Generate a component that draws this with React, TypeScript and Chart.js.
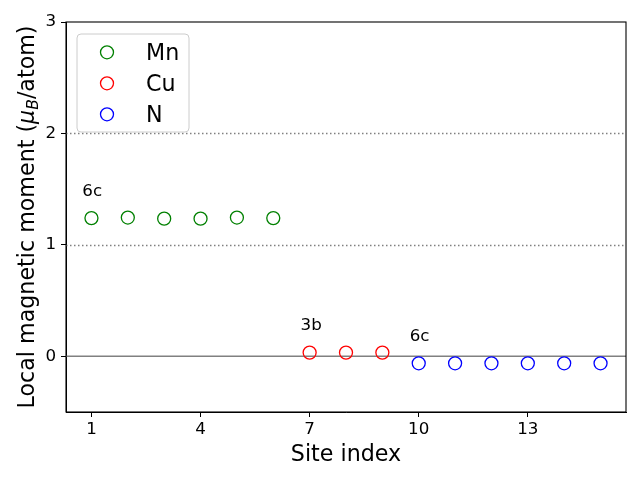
import React, { useEffect, useRef } from "react";
import { Chart, registerables } from "chart.js";

Chart.register(...registerables);

const mnSites = [1, 2, 3, 4, 5, 6];
const mnMoments = [1.24, 1.245, 1.235, 1.235, 1.245, 1.24];
const cuSites = [7, 8, 9];
const cuMoments = [0.033, 0.033, 0.033];
const nSites = [10, 11, 12, 13, 14, 15];
const nMoments = [-0.063, -0.063, -0.063, -0.063, -0.063, -0.063];

const seriesLabels = ["Mn", "Cu", "N"];
const seriesColors = ["#008000", "#ff0000", "#0000ff"];

const annotLabels = ["6c", "3b", "6c"];
const annotSites = [1, 7, 10];
const annotMoments = [1.24, 0.033, -0.063];

const xTicks = [1, 4, 7, 10, 13];
const yTicks = [0, 1, 2, 3];
const refLinesDotted = [1, 2];
const refLineSolid = 0;

const FONT = "'DejaVu Sans', sans-serif";
const BIG = 22.2;
const SMALL = 16.7;

const toPts = (xs: number[], ys: number[]) => xs.map((x, i) => ({ x, y: ys[i] }));

const overlayPlugin = {
  id: "overlay",
  beforeDatasetsDraw(chart: any) {
    const { ctx, chartArea: a, scales } = chart;
    const y = scales.y;
    ctx.save();
    ctx.strokeStyle = "#808080";
    ctx.lineWidth = 1.5;
    ctx.setLineDash([1.5, 2.5]);
    refLinesDotted.forEach((v) => {
      const py = Math.round(y.getPixelForValue(v)) + 0.5;
      ctx.beginPath();
      ctx.moveTo(a.left, py);
      ctx.lineTo(a.right, py);
      ctx.stroke();
    });
    ctx.setLineDash([]);
    const p0 = y.getPixelForValue(refLineSolid);
    ctx.beginPath();
    ctx.moveTo(a.left, p0);
    ctx.lineTo(a.right, p0);
    ctx.stroke();
    ctx.restore();
  },
  afterDraw(chart: any) {
    const { ctx, chartArea: a, scales } = chart;
    const xs = scales.x;
    const ys = scales.y;
    ctx.save();
    ctx.strokeStyle = "#000";
    ctx.lineWidth = 1.1;
    ctx.strokeRect(a.left, a.top, a.right - a.left, a.bottom - a.top);

    ctx.fillStyle = "#000";
    ctx.font = `${SMALL}px ${FONT}`;
    ctx.textAlign = "left";
    ctx.textBaseline = "alphabetic";
    annotLabels.forEach((t, i) => {
      ctx.fillText(t, xs.getPixelForValue(annotSites[i] - 0.25), ys.getPixelForValue(annotMoments[i] + 0.2));
    });

    const lx = 77, ly = 34, lw = 112, lh = 98, r = 4;
    ctx.beginPath();
    ctx.moveTo(lx + r, ly);
    ctx.lineTo(lx + lw - r, ly);
    ctx.quadraticCurveTo(lx + lw, ly, lx + lw, ly + r);
    ctx.lineTo(lx + lw, ly + lh - r);
    ctx.quadraticCurveTo(lx + lw, ly + lh, lx + lw - r, ly + lh);
    ctx.lineTo(lx + r, ly + lh);
    ctx.quadraticCurveTo(lx, ly + lh, lx, ly + lh - r);
    ctx.lineTo(lx, ly + r);
    ctx.quadraticCurveTo(lx, ly, lx + r, ly);
    ctx.closePath();
    ctx.fillStyle = "rgba(255,255,255,0.8)";
    ctx.fill();
    ctx.strokeStyle = "#cccccc";
    ctx.lineWidth = 1;
    ctx.stroke();
    ctx.font = `${BIG}px ${FONT}`;
    ctx.textBaseline = "alphabetic";
    seriesLabels.forEach((lab, i) => {
      const cy = 52.3 + i * 31;
      ctx.beginPath();
      ctx.arc(107, cy, 6.5, 0, Math.PI * 2);
      ctx.strokeStyle = seriesColors[i];
      ctx.lineWidth = 1.3;
      ctx.stroke();
      ctx.fillStyle = "#000";
      ctx.fillText(lab, 146, cy + 8);
    });

    ctx.font = `${BIG}px ${FONT}`;
    ctx.textAlign = "center";
    ctx.textBaseline = "alphabetic";
    ctx.fillText("Site index", (a.left + a.right) / 2, 461);

    ctx.translate(34, (a.top + a.bottom) / 2);
    ctx.rotate(-Math.PI / 2);
    const pieces = [
      { t: "Local magnetic moment (", f: `${BIG}px ${FONT}`, dy: 0 },
      { t: "\u03bc", f: `italic ${BIG}px ${FONT}`, dy: 0 },
      { t: "B", f: `italic ${BIG * 0.7}px ${FONT}`, dy: 4 },
      { t: "/atom)", f: `${BIG}px ${FONT}`, dy: 0 },
    ];
    let total = 0;
    pieces.forEach((p) => {
      ctx.font = p.f;
      total += ctx.measureText(p.t).width;
    });
    let cx = -total / 2;
    ctx.textAlign = "left";
    pieces.forEach((p) => {
      ctx.font = p.f;
      ctx.fillText(p.t, cx, p.dy);
      cx += ctx.measureText(p.t).width;
    });
    ctx.restore();
  },
};

export default function App() {
  const ref = useRef<HTMLCanvasElement>(null);
  useEffect(() => {
    if (!ref.current) return;
    const mk = (label: string, xs: number[], ys: number[], color: string) => ({
      label,
      data: toPts(xs, ys),
      borderColor: color,
      backgroundColor: "rgba(0,0,0,0)",
      pointRadius: 6.5,
      pointBorderWidth: 1.3,
      pointHoverRadius: 6.5,
      showLine: false,
    });
    const chart = new Chart(ref.current, {
      type: "scatter",
      data: {
        datasets: [
          mk(seriesLabels[0], mnSites, mnMoments, seriesColors[0]),
          mk(seriesLabels[1], cuSites, cuMoments, seriesColors[1]),
          mk(seriesLabels[2], nSites, nMoments, seriesColors[2]),
        ],
      },
      options: {
        animation: false,
        responsive: false,
        events: [],
        layout: { padding: { top: 22, right: 14, left: 0, bottom: 0 } },
        plugins: { legend: { display: false }, tooltip: { enabled: false } },
        scales: {
          x: {
            type: "linear",
            min: 0.3,
            max: 15.7,
            afterBuildTicks: (s: any) => {
              s.ticks = xTicks.map((v) => ({ value: v }));
            },
            afterFit: (s: any) => {
              s.height = 68;
            },
            grid: { drawOnChartArea: false, drawTicks: true, tickLength: 5, color: "#000", tickWidth: 1 },
            border: { display: true, color: "#000", width: 1 },
            ticks: {
              autoSkip: false,
              maxRotation: 0,
              padding: 3,
              color: "#000",
              font: { family: FONT, size: SMALL },
              callback: (v: any) => String(v),
            },
          },
          y: {
            type: "linear",
            min: -0.5,
            max: 3,
            afterBuildTicks: (s: any) => {
              s.ticks = yTicks.map((v) => ({ value: v }));
            },
            afterFit: (s: any) => {
              s.width = 66;
            },
            grid: { drawOnChartArea: false, drawTicks: true, tickLength: 5, color: "#000", tickWidth: 1 },
            border: { display: true, color: "#000", width: 1 },
            ticks: {
              autoSkip: false,
              padding: 5,
              color: "#000",
              font: { family: FONT, size: SMALL },
              callback: (v: any) => String(v),
            },
          },
        },
      },
      plugins: [overlayPlugin],
    });
    return () => chart.destroy();
  }, []);
  return (
    <div style={{ position: "fixed", left: 0, top: 0, width: 640, height: 480, background: "#fff" }}>
      <canvas ref={ref} width={640} height={480} style={{ display: "block" }} />
    </div>
  );
}
